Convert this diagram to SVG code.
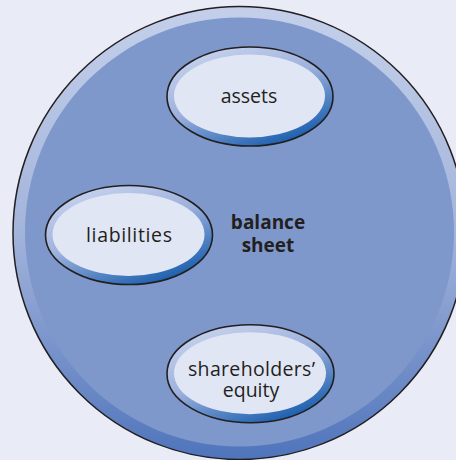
<svg xmlns="http://www.w3.org/2000/svg" width="456" height="460" viewBox="0 0 456 460">
  <defs>
    <linearGradient id="bigRing" x1="0" y1="0" x2="0" y2="1">
      <stop offset="0" stop-color="#c4d0ea"/>
      <stop offset="0.5" stop-color="#a3b4db"/>
      <stop offset="1" stop-color="#4f74bb"/>
    </linearGradient>
    <linearGradient id="nodeRing" x1="0.2" y1="0" x2="0.8" y2="1">
      <stop offset="0" stop-color="#c9d4ee"/>
      <stop offset="0.45" stop-color="#9db1dd"/>
      <stop offset="1" stop-color="#0b55a9"/>
    </linearGradient>
  </defs>
  <style>
    .ring { fill: url(#nodeRing); stroke: #231f20; stroke-width: 1.6; }
    .face { fill: #e1e6f4; }
    .lbl { font-family: "Open Sans", "Noto Sans", "Liberation Sans", sans-serif; font-size: 19.5px; fill: #231f20; text-anchor: middle; }
    .title { font-family: "Open Sans", "Noto Sans", "Liberation Sans", sans-serif; font-size: 19px; font-weight: bold; fill: #231f20; text-anchor: middle; }
  </style>
  <rect x="0" y="0" width="456" height="460" fill="#e9ebf6"/>
  <g id="balance-sheet">
    <circle cx="239.5" cy="233" r="226.5" fill="url(#bigRing)" stroke="#231f20" stroke-width="1.5"/>
    <circle cx="239.5" cy="232" r="214.5" fill="#7e98cb"/>
    <text class="title" x="268" y="229">balance</text>
    <text class="title" x="268" y="252">sheet</text>
  </g>
  <g id="connectors"></g>
  <g id="assets">
    <ellipse class="ring" cx="250" cy="96.5" rx="83" ry="49.5"/>
    <ellipse class="face" cx="249.5" cy="96" rx="75.5" ry="41.5"/>
    <text class="lbl" x="249" y="103">assets</text>
  </g>
  <g id="liabilities">
    <ellipse class="ring" cx="129" cy="235" rx="83.5" ry="49.5"/>
    <ellipse class="face" cx="128.5" cy="234.5" rx="76" ry="41.5"/>
    <text class="lbl" x="129" y="242" textLength="86" lengthAdjust="spacing">liabilities</text>
  </g>
  <g id="shareholders-equity">
    <ellipse class="ring" cx="250.5" cy="373.7" rx="83.5" ry="49"/>
    <ellipse class="face" cx="250" cy="373.2" rx="76" ry="41"/>
    <text class="lbl" x="251.5" y="376" textLength="127" lengthAdjust="spacing">shareholders’</text>
    <text class="lbl" x="251" y="397">equity</text>
  </g>
</svg>
